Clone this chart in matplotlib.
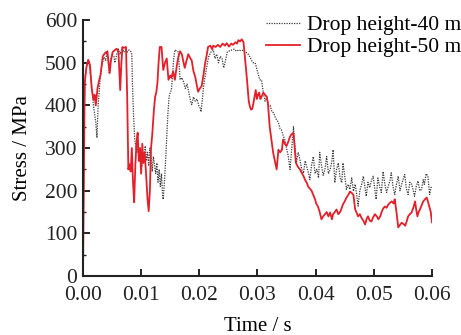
import matplotlib
matplotlib.use("Agg")
import matplotlib.pyplot as plt
from matplotlib.ticker import MultipleLocator

# drop height 40 m (black dotted)
t40 = [0.0000, 0.0002, 0.0004, 0.0007, 0.0010, 0.0013, 0.0016, 0.0018, 0.0020, 0.0022,
       0.0024, 0.0026, 0.0028, 0.0030, 0.0032, 0.0036, 0.0039, 0.0041, 0.0043, 0.0045,
       0.0047, 0.0050, 0.0053, 0.0055, 0.0058, 0.0061, 0.0064, 0.0067, 0.0070, 0.0073,
       0.0076, 0.0079, 0.0082, 0.0084, 0.0085, 0.0087, 0.0089, 0.0091, 0.0093, 0.0095,
       0.0097, 0.0099, 0.0101, 0.0103, 0.0105, 0.0107, 0.0109, 0.0111, 0.0113, 0.0115,
       0.0117, 0.0119, 0.0121, 0.0123, 0.0125, 0.0127, 0.0129, 0.0131, 0.0133, 0.0135,
       0.0137, 0.0138, 0.0140, 0.0142, 0.0144, 0.0146, 0.0148, 0.0150, 0.0152, 0.0154,
       0.0156, 0.0158, 0.0161, 0.0164, 0.0167, 0.0170, 0.0173, 0.0176, 0.0179, 0.0182,
       0.0185, 0.0187, 0.0190, 0.0193, 0.0196, 0.0199, 0.0201, 0.0203, 0.0205, 0.0207,
       0.0209, 0.0211, 0.0214, 0.0216, 0.0220, 0.0224, 0.0227, 0.0230, 0.0233, 0.0236,
       0.0239, 0.0242, 0.0245, 0.0248, 0.0252, 0.0256, 0.0260, 0.0264, 0.0268, 0.0272,
       0.0276, 0.0280, 0.0284, 0.0287, 0.0290, 0.0293, 0.0296, 0.0300, 0.0304, 0.0307,
       0.0310, 0.0313, 0.0316, 0.0319, 0.0322, 0.0325, 0.0328, 0.0331, 0.0334, 0.0336,
       0.0339, 0.0341, 0.0344, 0.0347, 0.0350, 0.0353, 0.0356, 0.0359, 0.0362, 0.0364,
       0.0367, 0.0370, 0.0373, 0.0376, 0.0379, 0.0382, 0.0385, 0.0388, 0.0390, 0.0393,
       0.0396, 0.0399, 0.0402, 0.0405, 0.0407, 0.0410, 0.0413, 0.0416, 0.0419, 0.0422,
       0.0425, 0.0428, 0.0430, 0.0433, 0.0436, 0.0439, 0.0442, 0.0445, 0.0447, 0.0450,
       0.0453, 0.0456, 0.0459, 0.0462, 0.0465, 0.0468, 0.0470, 0.0473, 0.0476, 0.0479,
       0.0482, 0.0485, 0.0487, 0.0490, 0.0493, 0.0496, 0.0499, 0.0502, 0.0504, 0.0507,
       0.0510, 0.0513, 0.0516, 0.0519, 0.0522, 0.0525, 0.0528, 0.0530, 0.0533, 0.0536,
       0.0539, 0.0542, 0.0545, 0.0547, 0.0550, 0.0553, 0.0556, 0.0559, 0.0562, 0.0565,
       0.0568, 0.0570, 0.0573, 0.0576, 0.0579, 0.0582, 0.0585, 0.0587, 0.0590, 0.0593,
       0.0596, 0.0599]
s40 = [0, 380, 470, 500, 505, 470, 430, 400, 380, 360,
       324, 400, 436, 470, 490, 513, 505, 525, 510, 476,
       500, 520, 515, 500, 520, 532, 520, 535, 525, 530,
       525, 530, 527, 520, 453, 374, 320, 300, 289, 310,
       270, 300, 257, 290, 265, 305, 270, 290, 260, 300,
       280, 245, 280, 260, 240, 265, 220, 250, 210, 240,
       185, 180, 220, 270, 327, 380, 420, 430, 436, 470,
       510, 530, 528, 525, 460, 465, 455, 440, 450, 430,
       410, 402, 420, 410, 415, 400, 395, 385, 410, 440,
       460, 476, 500, 514, 525, 530, 510, 520, 500, 515,
       510, 488, 505, 525, 528, 530, 532, 527, 530, 528,
       530, 525, 520, 514, 505, 500, 500, 480, 460, 460,
       430, 410, 420, 397, 400, 385, 382, 370, 365, 359,
       345, 343, 330, 320, 300, 280, 250, 300, 350, 310,
       266, 290, 273, 250, 241, 270, 255, 240, 226, 260,
       280, 240, 250, 230, 290, 260, 236, 250, 280, 240,
       250, 270, 296, 219, 250, 265, 230, 219, 265, 235,
       203, 215, 203, 230, 199, 215, 196, 164, 200, 215,
       234, 205, 187, 220, 207, 225, 234, 200, 180, 230,
       210, 196, 245, 215, 196, 211, 225, 242, 210, 191,
       215, 234, 200, 211, 225, 238, 205, 191, 220, 215,
       200, 187, 210, 223, 200, 203, 226, 215, 240, 234,
       191, 211]

# drop height 50 m (red)
t50 = [0.0000, 0.0001, 0.0002, 0.0003, 0.0006, 0.0009, 0.0012, 0.0015, 0.0018, 0.0020,
       0.0022, 0.0025, 0.0028, 0.0030, 0.0034, 0.0038, 0.0042, 0.0044, 0.0046, 0.0048,
       0.0051, 0.0055, 0.0058, 0.0061, 0.0064, 0.0066, 0.0068, 0.0071, 0.0074, 0.0076,
       0.0078, 0.0080, 0.0082, 0.0084, 0.0086, 0.0088, 0.0090, 0.0092, 0.0094, 0.0096,
       0.0098, 0.0100, 0.0102, 0.0104, 0.0106, 0.0108, 0.0111, 0.0113, 0.0115, 0.0117,
       0.0119, 0.0122, 0.0124, 0.0126, 0.0128, 0.0130, 0.0132, 0.0135, 0.0138, 0.0141,
       0.0144, 0.0147, 0.0150, 0.0152, 0.0155, 0.0158, 0.0161, 0.0164, 0.0167, 0.0170,
       0.0173, 0.0175, 0.0178, 0.0181, 0.0184, 0.0187, 0.0190, 0.0193, 0.0196, 0.0198,
       0.0201, 0.0204, 0.0207, 0.0210, 0.0213, 0.0215, 0.0219, 0.0222, 0.0224, 0.0228,
       0.0232, 0.0236, 0.0240, 0.0244, 0.0247, 0.0251, 0.0255, 0.0258, 0.0262, 0.0265,
       0.0267, 0.0270, 0.0273, 0.0276, 0.0278, 0.0280, 0.0282, 0.0285, 0.0287, 0.0289,
       0.0291, 0.0293, 0.0295, 0.0297, 0.0299, 0.0301, 0.0303, 0.0305, 0.0307, 0.0310,
       0.0313, 0.0316, 0.0318, 0.0321, 0.0324, 0.0327, 0.0330, 0.0333, 0.0336, 0.0339,
       0.0342, 0.0344, 0.0347, 0.0350, 0.0353, 0.0356, 0.0359, 0.0362, 0.0364, 0.0366,
       0.0368, 0.0370, 0.0373, 0.0376, 0.0379, 0.0382, 0.0385, 0.0387, 0.0390, 0.0393,
       0.0396, 0.0399, 0.0401, 0.0404, 0.0407, 0.0410, 0.0413, 0.0416, 0.0419, 0.0422,
       0.0425, 0.0428, 0.0430, 0.0433, 0.0436, 0.0439, 0.0442, 0.0445, 0.0447, 0.0450,
       0.0453, 0.0456, 0.0459, 0.0462, 0.0465, 0.0468, 0.0470, 0.0473, 0.0476, 0.0479,
       0.0482, 0.0485, 0.0488, 0.0490, 0.0493, 0.0496, 0.0499, 0.0502, 0.0505, 0.0508,
       0.0511, 0.0514, 0.0516, 0.0519, 0.0522, 0.0525, 0.0528, 0.0531, 0.0534, 0.0536,
       0.0539, 0.0542, 0.0545, 0.0548, 0.0551, 0.0554, 0.0557, 0.0559, 0.0562, 0.0565,
       0.0568, 0.0571, 0.0573, 0.0575, 0.0577, 0.0579, 0.0582, 0.0585, 0.0588, 0.0591,
       0.0593, 0.0595, 0.0598, 0.0600]
s50 = [0, 150, 320, 453, 490, 507, 495, 440, 413, 425,
       400, 440, 460, 470, 515, 523, 527, 500, 476, 505,
       525, 530, 533, 525, 436, 500, 537, 535, 537, 420,
       250, 262, 245, 300, 220, 173, 260, 313, 336, 270,
       300, 240, 310, 265, 290, 250, 180, 152, 200, 300,
       330, 390, 420, 430, 453, 500, 537, 537, 483, 500,
       510, 460, 470, 465, 480, 460, 490, 514, 527, 520,
       500, 488, 505, 520, 512, 505, 480, 467, 445, 432,
       440, 445, 470, 499, 520, 537, 540, 532, 540, 537,
       542, 537, 545, 540, 546, 538, 545, 542, 548, 545,
       553, 550, 555, 548, 520, 490, 460, 410, 397, 390,
       392, 405, 420, 436, 415, 425, 430, 415, 420, 430,
       425, 420, 405, 350, 320, 289, 270, 250, 296, 290,
       296, 320, 310, 305, 315, 327, 333, 335, 300, 266,
       260, 255, 250, 242, 235, 225, 218, 210, 205, 200,
       190, 180, 170, 163, 150, 133, 140, 145, 150, 140,
       149, 133, 145, 150, 156, 145, 150, 160, 168, 175,
       184, 190, 198, 195, 190, 156, 150, 140, 145, 136,
       130, 121, 135, 140, 130, 128, 138, 145, 140, 133,
       140, 152, 158, 163, 160, 168, 172, 175, 170, 180,
       150, 114, 120, 125, 122, 118, 130, 140, 145, 149,
       160, 175, 155, 140, 150, 155, 165, 175, 180, 184,
       175, 165, 150, 126]

plt.rcParams['font.family'] = ['Liberation Serif', 'DejaVu Serif']

fig = plt.figure(figsize=(4.61, 3.35), dpi=100)
ax = fig.add_axes([0.180, 0.176, 0.757, 0.764])

ax.plot(t40, s40, color='#3a3a3a', lw=0.9, ls=(0, (1, 1)), label='Drop height-40 m')
ax.plot(t50, s50, color='#e3202a', lw=1.3, label='Drop height-50 m')

ax.set_xlim(0, 0.06)
ax.set_ylim(0, 600)
ax.xaxis.set_major_locator(MultipleLocator(0.01))
ax.yaxis.set_major_locator(MultipleLocator(100))
ax.yaxis.set_minor_locator(MultipleLocator(50))
ax.xaxis.set_major_formatter(matplotlib.ticker.FormatStrFormatter('%.2f'))

for side in ['top', 'right']:
    ax.spines[side].set_visible(False)
for side in ['left', 'bottom']:
    ax.spines[side].set_linewidth(1.5)
    ax.spines[side].set_color('#222222')

ax.tick_params(which='major', direction='in', length=5, width=1.4, labelsize=15.5, pad=4, colors='#222222')
ax.tick_params(axis='x', which='major', pad=7)
ax.tick_params(which='minor', direction='in', length=2.5, width=1.0, colors='#222222')

ax.set_xlabel('Time / s', fontsize=15, labelpad=9)
ax.set_ylabel('Stress / MPa', fontsize=15, labelpad=9)

fig.legend(loc='upper right', bbox_to_anchor=(1.0, 0.955), frameon=False,
           fontsize=15.5, handlelength=1.6, handletextpad=0.3, labelspacing=0.1,
           borderpad=0, borderaxespad=0)

fig.savefig('out.png', dpi=100)
